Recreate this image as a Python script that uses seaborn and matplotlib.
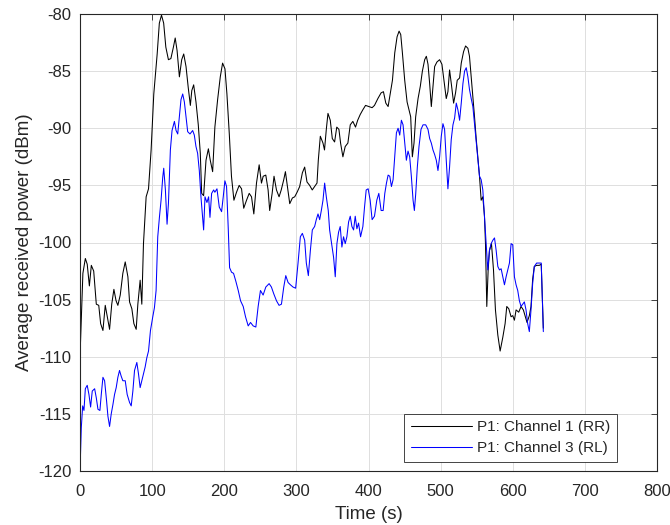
import numpy as np
import pandas as pd
import matplotlib
matplotlib.use("Agg")
import matplotlib.pyplot as plt
import seaborn as sns

# ---- data ----
t_rr = [0, 4, 7.4, 10, 13, 15.7, 19, 22.6, 26, 28.6, 31.8, 35, 37.8, 41, 44, 47, 50, 52.5, 55.8, 59.4,
        62.7, 66.4, 68.7, 71.9, 74.7, 77.9, 80.2, 83.4, 85.7, 88, 91.7, 95, 98.6, 102.3, 107, 110, 113, 116,
        119, 122.6, 126, 129.5, 132, 134.6, 137.8, 141, 143.8, 147, 150, 153, 155, 157.6, 160.8, 164, 166.8,
        168.7, 171.4, 174.7, 178, 180.6, 183.9, 187, 190.8, 194.5, 197.7, 201, 203.7, 207, 210, 213.4, 217,
        220.7, 224, 227, 230.9, 234.6, 237.8, 241, 244.7, 248.4, 251.6, 254, 257.6, 260.8, 263, 266.4, 269,
        272.4, 276, 279, 282.5, 284.8, 287.6, 290.8, 294.5, 297.7, 301, 304.6, 308.3, 311.5, 314.7, 318.4,
        322, 325.3, 328.6, 330.4, 333.2, 336.9, 339, 341.5, 343.8, 347, 349.8, 353, 356, 359, 361.3, 364.5,
        367.7, 371.4, 374.7, 378.3, 382, 385, 388.5, 392, 395.9, 400.5, 405, 408.3, 413, 417.5, 420.7, 424,
        427.2, 430.4, 433.2, 436.4, 439.6, 442.4, 444.7, 447, 450.2, 453.5, 456.2, 458.5, 460.8, 463.1, 465.4,
        468.7, 471.9, 474.7, 477.9, 480.2, 482.5, 484.8, 487.1, 489.4, 491.7, 494.9, 498.6, 501.8, 504.6,
        507.8, 510.1, 512.4, 515.2, 518, 520.7, 523, 526.3, 528.6, 531.8, 534.6, 537.8, 540, 542.4, 544.7,
        547, 549.3, 551.6, 553.9, 556.2, 558.5, 560.8, 562.2, 564, 565.9, 567.7, 570.5, 573.3, 576, 579.3,
        582.5, 586.2, 589.4, 591.7, 594.5, 597.7, 600, 602.3, 604.6, 608.3, 611.5, 614.7, 617, 619.8, 623,
        625.3, 627.6, 629.9, 633.1, 636.8, 639.5, 642.4]
p_rr = [-110, -102.7, -101.4, -101.9, -103.8, -102, -102.5, -105.4, -105.5, -107.1, -107.7, -105.5, -106.5,
        -107.6, -105.4, -104.1, -105.1, -105.5, -104.6, -102.7, -101.7, -103, -105.2, -105.8, -107.1, -107.6,
        -105.4, -103.3, -105.4, -100.1, -96, -95.3, -91.9, -87, -83.5, -80.8, -80.1, -80.8, -82.9, -84, -83.9,
        -82.9, -82.1, -83.2, -85.5, -84, -83.5, -84.6, -86.4, -88, -86.7, -86.2, -87.7, -89.7, -92.2, -95.7,
        -95.9, -92.8, -91.8, -92.8, -93.8, -89.9, -87.5, -85.5, -84.3, -84.8, -87, -90.5, -94.2, -96.3, -95.6,
        -95, -95.3, -97, -96.3, -95.7, -96, -97.5, -94.8, -93.2, -94.8, -94.2, -94.1, -95.4, -97.2, -95.7,
        -94.2, -95.4, -96, -95.4, -94.5, -93.8, -95.1, -96.6, -96.1, -96, -95.6, -95.1, -93.9, -93.4, -94.7,
        -95, -95.4, -95.1, -94.8, -92.8, -90.7, -91.3, -91.9, -90.1, -88.7, -89.3, -90.9, -91.2, -89.9, -90.1,
        -91.3, -92.5, -91.6, -91.3, -89.7, -89.4, -89.9, -89.3, -88.8, -88.4, -88, -88.1, -88.2, -88, -87.4,
        -86.9, -86.8, -87.8, -88.1, -86.9, -85.8, -83.4, -82, -81.5, -81.8, -83.4, -85.8, -87.7, -88.4, -89,
        -92.5, -91.3, -89, -87.4, -86.3, -85, -84, -83.7, -84.4, -86.1, -88.1, -86.3, -84.6, -84.2, -84, -84.4,
        -85.8, -87.4, -86.8, -84.9, -86.3, -87.8, -86.9, -85.8, -85.6, -84.3, -83.3, -82.8, -83, -83.7, -85.5,
        -87.2, -89, -90.9, -92.5, -94.2, -96.3, -96, -97.7, -100.1, -105.6, -102.4, -100.7, -100.1, -102.4,
        -105.9, -108.1, -109.5, -108.3, -107.1, -105.6, -105.8, -106.5, -106.4, -106.8, -105.9, -106.1, -105.6,
        -105.9, -106.4, -107, -106.4, -105.6, -103.2, -102.1, -102, -102, -101.9, -107.5]

t_rl = [0, 1.8, 3.7, 5.5, 7.4, 10, 12.4, 14.7, 17, 20.3, 22.6, 24.9, 27.6, 29.5, 31.8, 34.1, 36.9, 38.7, 41,
        43.3, 45.6, 47.9, 50.2, 52.5, 54.8, 57.1, 59.4, 62.7, 65.4, 68.7, 71, 73.3, 75.6, 78.8, 81.1, 83.4,
        85.7, 88, 90.3, 92.6, 95, 97.7, 100.9, 103.2, 105.5, 107.8, 110.1, 112.4, 114.7, 116.1, 118.4, 120.7,
        122.6, 125.3, 127.6, 130.9, 133.2, 135.5, 137.8, 140, 142.4, 144.7, 147, 149.3, 152.5, 156.2, 158.5,
        160.8, 163.1, 165.4, 167.7, 170, 171.4, 173.3, 176, 178.3, 180.2, 182.5, 185.3, 187, 189.9, 193.1,
        196.3, 198.6, 200.9, 203.2, 205.5, 207.4, 210.1, 212.9, 216.1, 219.4, 222.6, 226.3, 229.5, 233.2,
        236.4, 240.1, 243.8, 247, 250.2, 253.9, 257.6, 262.2, 265.4, 268.7, 272.4, 276, 279.3, 282.5, 285.3,
        288.5, 291.7, 295.4, 299, 302.3, 305.5, 308.3, 311.5, 313.8, 316.6, 319.4, 322.1, 325.3, 327.6, 330,
        332.3, 334.6, 336.9, 339.2, 341.5, 344.2, 346.1, 348.8, 351.6, 353.9, 356.2, 358.5, 360.8, 363.1,
        365.4, 367.7, 370, 372.4, 374.7, 377, 379.3, 381.6, 383.9, 386.2, 389, 392.2, 394.5, 396.8, 399.5,
        402.3, 405, 408.3, 411.5, 414.3, 417.5, 420.3, 422.6, 424.9, 427.2, 429.5, 431.8, 434.1, 436.4, 438.7,
        441, 443.3, 445.6, 447.9, 450.2, 452.5, 454.8, 457.1, 459.4, 461.8, 463.6, 465.4, 467.7, 470, 472.8,
        475.6, 479.3, 482.5, 484.8, 487.1, 489.4, 491.7, 494, 496.3, 498.6, 500.9, 503.2, 505.5, 507.8, 510.1,
        512.4, 514.7, 517.1, 519.4, 521.7, 524, 526.3, 528.6, 530.9, 533.2, 535.5, 537.8, 540, 542.4, 544.7,
        547, 549.3, 551.6, 553.9, 556.2, 558.5, 560.8, 563.1, 565.4, 567.7, 570, 572.4, 574.7, 577, 579.3,
        581.6, 583.9, 586.2, 588.5, 590.8, 593.1, 595.4, 597.7, 600, 602.3, 604.6, 606.9, 609.2, 611.5, 613.8,
        616.1, 618.4, 620.7, 623, 625.3, 627.6, 629.9, 633.1, 636.8, 639.5, 642.4]
p_rl = [-120, -116.2, -114.3, -114.7, -112.8, -112.5, -113.3, -114.4, -113, -112.8, -113.6, -114.6, -114.7,
        -113.3, -111.8, -112.1, -113.9, -115.2, -116.1, -115, -114.2, -113.3, -112.7, -111.8, -111.2, -111.7,
        -112.1, -112.1, -113.3, -114, -114.3, -113, -111.2, -110.5, -111.5, -112.7, -112.1, -111.5, -110.9,
        -110.1, -109.5, -107.7, -106.5, -105.7, -104.2, -99.5, -97.8, -96.3, -94.3, -93.5, -95.4, -98.4, -96.6,
        -91.9, -90.2, -89.4, -90.2, -90.5, -89, -87.5, -87, -87.7, -89, -90.3, -90.5, -90.2, -90.6, -91.6,
        -92.2, -93.7, -96, -97.8, -98.9, -96, -96.5, -96, -97.8, -95.7, -95.4, -95.6, -95.3, -96.9, -97.3, -96,
        -94.6, -95.1, -98.7, -102.2, -102.6, -102.7, -103.4, -104.2, -105.1, -105.6, -106.5, -107.3, -107,
        -107.3, -107.4, -105.6, -104.2, -104.6, -103.9, -103.6, -103.9, -104.5, -105.1, -105.5, -105.4,
        -103.9, -102.9, -103.5, -103.7, -103.9, -104, -101.8, -99.5, -99.2, -99.8, -101.8, -102.9, -100.7,
        -98.9, -98.6, -98, -97.5, -98, -97.2, -96.3, -94.8, -96, -97.2, -98.9, -100.1, -101.3, -103, -100.1,
        -99.1, -98.6, -100.4, -99.5, -100.1, -99.5, -98.2, -97.7, -98.6, -98.9, -97.7, -98.8, -98.3, -99.5,
        -98.6, -96.9, -95.4, -95.3, -96.3, -98, -97.7, -96.3, -95.7, -97.2, -97.2, -95.7, -94.8, -94.1, -94.2,
        -95.1, -94.5, -92.5, -90.4, -90, -90.6, -89.3, -89.7, -91.3, -92.8, -92, -92.5, -94.2, -96.3, -97.2,
        -95.8, -93.4, -91.6, -90.1, -89.7, -89.7, -90.1, -90.9, -91.3, -91.9, -92.3, -92.8, -93.7, -92.5,
        -90.7, -89.6, -90.1, -92.8, -95.3, -93.4, -91, -89.7, -89.1, -87.8, -88.4, -89.3, -87.8, -86.1, -85,
        -84.7, -85.5, -86.6, -87.4, -88.1, -89.6, -91, -92.6, -94.2, -94.5, -95.4, -97.7, -100.1, -102.4,
        -100.7, -100.1, -99.8, -99.6, -100.7, -102.1, -102.4, -102.3, -103, -103.7, -103, -102.4, -101.8,
        -100.1, -100.2, -103, -103.7, -104.2, -105.1, -105.6, -105.4, -105.2, -105.9, -107.1, -107.8, -105.9,
        -103.6, -102.1, -101.8, -101.8, -101.8, -107.8]

labels = ["P1: Channel 1 (RR)", "P1: Channel 3 (RL)"]
x_ticks = [0, 100, 200, 300, 400, 500, 600, 700, 800]
y_ticks = [-120, -115, -110, -105, -100, -95, -90, -85, -80]

df = pd.concat([
    pd.DataFrame({"Time": t_rr, "Power": p_rr, "Series": labels[0]}),
    pd.DataFrame({"Time": t_rl, "Power": p_rl, "Series": labels[1]}),
], ignore_index=True)

sns.set_theme(style="white")
plt.rcParams["font.family"] = ["Liberation Sans", "DejaVu Sans"]
plt.rcParams["axes.unicode_minus"] = False

fig = plt.figure(figsize=(6.7, 5.25), dpi=100)
ax = fig.add_axes([80 / 670, (525 - 471) / 525, 577 / 670, 457 / 525])

sns.lineplot(data=df, x="Time", y="Power", hue="Series", palette=["#000000", "#0000ff"],
             estimator=None, sort=False, linewidth=0.75, ax=ax)

ax.set_xlim(0, 800)
ax.set_ylim(-120, -80)
ax.set_xticks(x_ticks)
ax.set_yticks(y_ticks)
ax.set_xticklabels([str(v) for v in x_ticks])
ax.set_yticklabels([str(v) for v in y_ticks])
ax.grid(True, color="#dfdfdf", linewidth=0.7)
ax.set_axisbelow(True)
for s in ax.spines.values():
    s.set_color("#262626")
    s.set_linewidth(0.8)
ax.tick_params(direction="in", length=4, width=0.6, top=True, right=True,
               labelsize=12, colors="#262626")
ax.tick_params(axis="y", pad=6)
ax.tick_params(axis="x", pad=9)
ax.set_xlabel("Time (s)", fontsize=13.5, color="#262626")
ax.set_ylabel("Average received power (dBm)", fontsize=13.5, color="#262626")
ax.xaxis.set_label_coords(0.5, -0.076)
ax.yaxis.set_label_coords(-0.082, 0.5)

leg = ax.legend(loc="lower right", bbox_to_anchor=(0.9307, 0.0197), borderaxespad=0,
                fontsize=11, handlelength=4.0, fancybox=False, framealpha=1,
                edgecolor="#262626", borderpad=0.45, labelspacing=0.44, handletextpad=0.3)
leg.get_frame().set_linewidth(0.6)
leg.set_title(None)

fig.savefig("out.png", dpi=100)
